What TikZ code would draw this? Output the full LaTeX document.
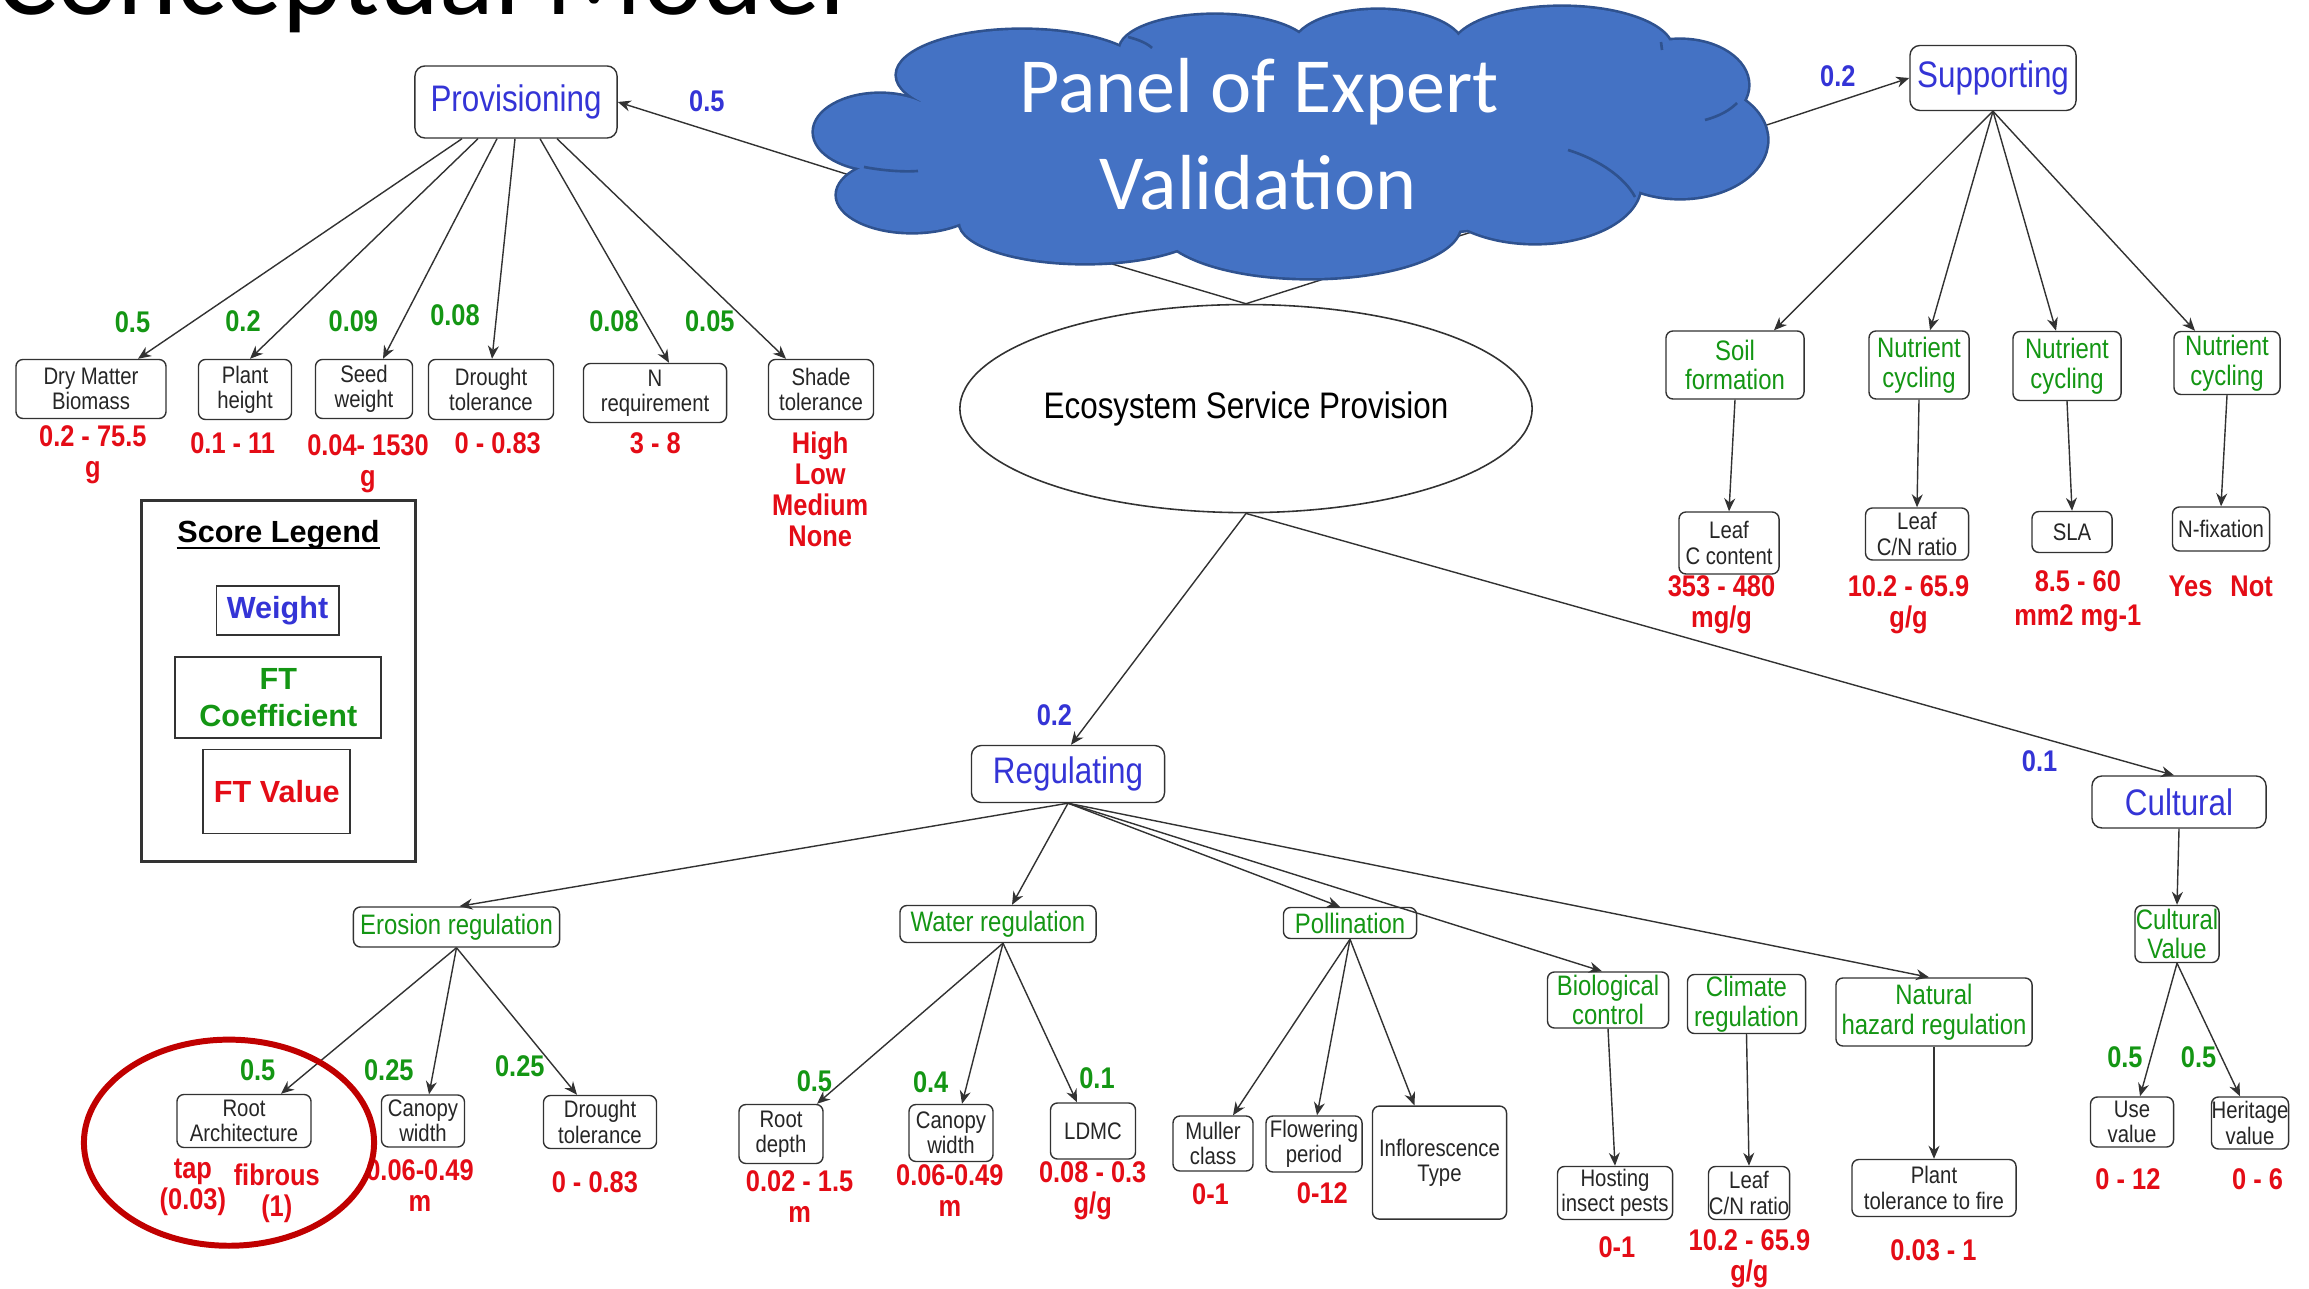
\documentclass[tikz,border=0pt]{standalone}
\usepackage{fontspec}
\newfontfamily\hv{Liberation Sans}[FakeStretch=0.85]
\newfontfamily\hvn{Liberation Sans}
\newfontfamily\carl{Carlito}
\usetikzlibrary{shapes.geometric,arrows.meta,calc}
\definecolor{wblue}{RGB}{52,52,214}
\definecolor{fgreen}{RGB}{20,150,20}
\definecolor{vred}{RGB}{228,12,22}
\definecolor{cloudfill}{RGB}{68,114,196}
\definecolor{cloudline}{RGB}{47,82,143}
\definecolor{circred}{RGB}{192,0,0}
\definecolor{linec}{RGB}{50,50,50}
\newcommand\FBig{\hv\fontsize{10.5}{12}\selectfont}
\newcommand\FGreen{\hv\fontsize{8}{8.4}\selectfont}
\newcommand\FSmall{\hv\fontsize{6.8}{7.2}\selectfont}
\newcommand\FNum{\hv\bfseries\fontsize{8.5}{8.8}\selectfont}
\newcommand\FLeg{\hvn\bfseries\fontsize{8.7}{10.5}\selectfont}
\begin{document}
\begin{tikzpicture}[x=0.01cm,y=-0.01cm,
 box/.style={draw=linec, line width=0.4pt, rounded corners=0.7mm, fill=white, align=center, inner sep=0pt, font=\FSmall, text=black!85},
 gbox/.style={box, font=\FGreen, text=fgreen},
 wbox/.style={box, font=\FBig, text=wblue, rounded corners=1mm},
 arr/.style={draw=linec, line width=0.4pt, -{Stealth[length=1.3mm,width=1.1mm]}},
 ln/.style={draw=linec, line width=0.4pt},
 gnum/.style={font=\FNum, text=fgreen, inner sep=0pt},
 bnum/.style={font=\FNum, text=wblue, inner sep=0pt},
 rval/.style={font=\FNum, text=vred, inner sep=0pt, align=center},
 legbox/.style={draw=black!80, line width=0.5pt, inner sep=0pt, align=center, font=\FLeg}]
\useasboundingbox (0,0) rectangle (2309,1289);

% ---------- top level ----------
\node[wbox, minimum width=20.2mm, minimum height=7.2mm] (prov) at (516,102) {Provisioning};
\node[wbox, minimum width=16.6mm, minimum height=6.5mm] (sup) at (1993,78) {Supporting};
\node[wbox, minimum width=19.3mm, minimum height=5.7mm] (reg) at (1068,774) {Regulating};
\node[wbox, minimum width=17.4mm, minimum height=5.2mm] (cul) at (2179,802) {Cultural};
\node[ellipse, draw=linec, line width=0.45pt, fill=white, minimum width=56.3mm, minimum height=20.8mm, inner sep=0pt, font=\FBig] (esp) at (1246,408.6) {Ecosystem Service Provision};

% ---------- provisioning children ----------
\node[box, minimum width=15.0mm, minimum height=5.9mm] (dmb) at (91,389) {Dry Matter\\Biomass};
\node[box, minimum width=9.3mm, minimum height=6.0mm] (ph) at (245,389.5) {Plant\\height};
\node[box, minimum width=9.7mm, minimum height=5.9mm] (sw) at (364,389) {Seed\\weight};
\node[box, minimum width=12.5mm, minimum height=6.0mm] (dt) at (491,389.5) {Drought\\tolerance};
\node[box, minimum width=14.3mm, minimum height=5.9mm] (nr) at (655,393) {N\\requirement};
\node[box, minimum width=10.5mm, minimum height=6.0mm] (st) at (821,389.5) {Shade\\tolerance};

\draw[arr] ($(prov.south)+(-54,0)$) -- ($(dmb.north)+(47,0)$);
\draw[arr] ($(prov.south)+(-38,0)$) -- ($(ph.north)+(5,0)$);
\draw[arr] ($(prov.south)+(-19,0)$) -- ($(sw.north)+(19,0)$);
\draw[arr] ($(prov.south)+(-1,0)$) -- ($(dt.north)+(1,0)$);
\draw[arr] ($(prov.south)+(24,0)$) -- ($(nr.north)+(14,0)$);
\draw[arr] ($(prov.south)+(41,0)$) -- ($(st.north)+(-35,0)$);

\node[gnum] (g1) at (132.5,322.5) {0.5};
\node[gnum] (g2) at (243,321) {0.2};
\node[gnum] (g3) at (353.4,321) {0.09};
\node[gnum] (g4) at (455,315) {0.08};
\node[gnum] (g5) at (614,321) {0.08};
\node[gnum] (g6) at (709.8,321) {0.05};

\node[rval] (r1) at (92.8,455) {0.2 - 75.5\\g};
\node[rval] (r2) at (232.7,443.3) {0.1 - 11};
\node[rval] (r3) at (368,464) {0.04- 1530\\g};
\node[rval] (r4) at (497.7,443.3) {0 - 0.83};
\node[rval] (r5) at (655.3,443.3) {3 - 8};
\node[rval] (r6) at (820.2,489.6) {High\\Low\\Medium\\None};

% ---------- supporting children ----------
\node[gbox, minimum width=13.8mm, minimum height=6.8mm] (soil) at (1735,365) {Soil\\formation};
\node[gbox, minimum width=10.0mm, minimum height=6.8mm] (nc1) at (1919,365) {Nutrient\\cycling};
\node[gbox, minimum width=10.8mm, minimum height=6.9mm] (nc2) at (2067,366) {Nutrient\\cycling};
\node[gbox, minimum width=10.6mm, minimum height=6.3mm] (nc3) at (2227,363) {Nutrient\\cycling};
\draw[arr] (sup.south) -- ($(soil.north)+(39,0)$);
\draw[arr] (sup.south) -- ($(nc1.north)+(11,0)$);
\draw[arr] (sup.south) -- ($(nc2.north)+(-11,0)$);
\draw[arr] (sup.south) -- ($(nc3.north)+(-32,0)$);

\node[box, minimum width=10.0mm, minimum height=6.2mm] (leafc) at (1729,543) {Leaf\\C content};
\node[box, minimum width=10.3mm, minimum height=5.2mm] (leafcn) at (1917,534) {Leaf\\C/N ratio};
\node[box, minimum width=8.0mm, minimum height=4.1mm] (sla) at (2072,532) {SLA};
\node[box, minimum width=9.7mm, minimum height=4.4mm] (nfix) at (2221,529) {N-fixation};
\draw[arr] (soil.south) -- (leafc.north);
\draw[arr] (nc1.south) -- (leafcn.north);
\draw[arr] (nc2.south) -- (sla.north);
\draw[arr] (nc3.south) -- (nfix.north);

\node[rval] (r7) at (1721.5,604.5) {353 - 480\\mg/g};
\node[rval] (r8) at (1908.5,604.5) {10.2 - 65.9\\g/g};
\node[rval, font=\hv\bfseries\fontsize{8.5}{9.6}\selectfont] (r9) at (2077.8,601.5) {8.5 - 60\\mm2 mg-1};
\node[rval] (r10) at (2220.7,586) {Yes\hspace{0.6em}Not};

% ---------- ecosystem -> regulating / cultural ----------
\draw[arr] (esp.south) -- ($(reg.north)+(3,0)$);
\draw[arr] (esp.south) -- ($(cul.north)+(-5,0)$);
\node[bnum] (w3) at (1054.4,715.7) {0.2};
\node[bnum] (w4) at (2039.6,761.3) {0.1};

% ---------- regulating children ----------
\node[gbox, minimum width=20.6mm, minimum height=4.0mm] (ero) at (456.5,927) {Erosion regulation};
\node[gbox, minimum width=19.6mm, minimum height=3.7mm] (wat) at (998,924) {Water regulation};
\node[gbox, minimum width=13.3mm, minimum height=3.1mm] (pol) at (1350,923) {Pollination};
\node[gbox, minimum width=12.1mm, minimum height=5.6mm] (bio) at (1608,1000) {Biological\\control};
\node[gbox, minimum width=11.8mm, minimum height=5.9mm] (cli) at (1746.5,1004) {Climate\\regulation};
\node[gbox, minimum width=19.6mm, minimum height=6.8mm] (nh) at (1934,1012) {Natural\\hazard regulation};
\draw[arr] (reg.south) -- ($(ero.north)+(3,0)$);
\draw[arr] (reg.south) -- ($(wat.north)+(14,0)$);
\draw[arr] (reg.south) -- ($(pol.north)+(-10,0)$);
\draw[arr] (reg.south) -- ($(bio.north)+(-6,0)$);
\draw[arr] (reg.south) -- ($(nh.north)+(-5,0)$);

% erosion
\node[box, minimum width=13.4mm, minimum height=5.3mm] (ra) at (244,1121) {Root\\Architecture};
\node[box, minimum width=8.3mm, minimum height=5.2mm] (cw1) at (423,1121) {Canopy\\width};
\node[box, minimum width=11.3mm, minimum height=5.3mm] (dt2) at (600,1122) {Drought\\tolerance};
\draw[arr] (ero.south) -- ($(ra.north)+(37,0)$);
\draw[arr] (ero.south) -- ($(cw1.north)+(6,0)$);
\draw[arr] (ero.south) -- ($(dt2.north)+(-23,0)$);
\node[gnum] (g7) at (257.7,1070.6) {0.5};
\node[gnum] (g8) at (388.8,1070.6) {0.25};
\node[gnum] (g9) at (519.8,1066.2) {0.25};
\node[rval] (r11) at (192.9,1187.6) {tap\\(0.03)};
\node[rval] (r12) at (276.8,1192.8) {fibrous\\(1)};
\node[rval] (r13) at (420,1186) {0.06-0.49\\m};
\node[rval] (r14) at (594.9,1182.5) {0 - 0.83};

% water
\node[box, minimum width=8.4mm, minimum height=5.9mm] (rd) at (781,1134) {Root\\depth};
\node[box, minimum width=8.4mm, minimum height=5.7mm] (cw2) at (951,1133) {Canopy\\width};
\node[box, minimum width=8.5mm, minimum height=5.6mm] (ldmc) at (1093,1131) {LDMC};
\draw[arr] ($(wat.south)+(5,0)$) -- ($(rd.north)+(36,0)$);
\draw[arr] ($(wat.south)+(5,0)$) -- ($(cw2.north)+(11,0)$);
\draw[arr] ($(wat.south)+(5,0)$) -- ($(ldmc.north)+(-16,0)$);
\node[gnum] (g10) at (814.4,1080.9) {0.5};
\node[gnum] (g11) at (930.7,1082.4) {0.4};
\node[gnum] (g12) at (1097,1078) {0.1};
\node[rval] (r15) at (799.6,1196.5) {0.02 - 1.5\\m};
\node[rval] (r16) at (949.8,1190.5) {0.06-0.49\\m};
\node[rval] (r17) at (1092.7,1190.5) {0.08 - 0.3\\g/g};

% pollination
\node[box, minimum width=8.0mm, minimum height=5.5mm] (mc) at (1213,1143.5) {Muller\\class};
\node[box, minimum width=9.6mm, minimum height=5.6mm] (fp) at (1314,1144) {Flowering\\period};
\node[box, minimum width=13.4mm, minimum height=11.3mm] (it) at (1439.5,1162.6) {Inflorescence\\Type};
\draw[arr] (pol.south) -- ($(mc.north)+(20,0)$);
\draw[arr] (pol.south) -- ($(fp.north)+(3,0)$);
\draw[arr] (pol.south) -- ($(it.north)+(-25,0)$);
\node[rval] (r18) at (1210.5,1194.3) {0-1};
\node[rval] (r19) at (1322.4,1192.8) {0-12};

% bio / climate / hazard
\node[box, minimum width=11.5mm, minimum height=5.3mm] (host) at (1615,1193) {Hosting\\insect pests};
\node[box, minimum width=8.1mm, minimum height=5.3mm] (leafcn2) at (1749,1193) {Leaf\\C/N ratio};
\node[box, minimum width=16.4mm, minimum height=5.7mm] (ptf) at (1934,1188) {Plant\\tolerance to fire};
\draw[arr] (bio.south) -- (host.north);
\draw[arr] (cli.south) -- (leafcn2.north);
\draw[arr] (nh.south) -- (ptf.north);
\node[rval] (r20) at (1616.9,1247.3) {0-1};
\node[rval] (r21) at (1749.4,1259) {10.2 - 65.9\\g/g};
\node[rval] (r22) at (1933.5,1250.2) {0.03 - 1};

% cultural
\node[gbox, minimum width=8.4mm, minimum height=5.7mm] (cv) at (2177,934) {Cultural\\Value};
\node[box, minimum width=8.3mm, minimum height=5.0mm] (use) at (2132,1122) {Use\\value};
\node[box, minimum width=7.7mm, minimum height=5.2mm] (her) at (2250,1123) {Heritage\\value};
\draw[arr] (cul.south) -- (cv.north);
\draw[arr] (cv.south) -- ($(use.north)+(8,0)$);
\draw[arr] (cv.south) -- ($(her.north)+(-10,0)$);
\node[gnum] (g13) at (2124.9,1057.3) {0.5};
\node[gnum] (g14) at (2198.6,1057.3) {0.5};
\node[rval] (r23) at (2127.9,1179.6) {0 - 12};
\node[rval] (r24) at (2257.5,1179.6) {0 - 6};

% red circle
\node[ellipse, draw=circred, line width=1.7pt, minimum width=29mm, minimum height=20.6mm, inner sep=0pt] (circ) at (229,1142.7) {};

% ---------- legend ----------
\node[legbox, line width=0.7pt, minimum width=27.4mm, minimum height=36.1mm] (leg) at (278.4,681.1) {};
\node[font=\FLeg, inner sep=0pt, anchor=base] (legt) at (278.5,543) {Score Legend};
\draw[line width=0.75pt] ($(legt.base west)+(0,5)$) -- ($(legt.base east)+(0,5)$);
\node[legbox, text=wblue, minimum width=12.2mm, minimum height=4.9mm] (lw) at (277.6,610.4) {Weight};
\node[legbox, text=fgreen, minimum width=20.6mm, minimum height=8.1mm] (lc) at (278.3,697.3) {FT\\Coefficient};
\node[legbox, text=vred, minimum width=14.7mm, minimum height=8.4mm] (lv) at (276.8,791.5) {FT Value};

% ---------- cloud connectors (start hidden under the cloud) ----------
\coordinate (cl1) at (900,201);
\coordinate (cl2) at (1500,223);
\coordinate (cp) at (900,191);
\coordinate (cs) at (1700,147);
\draw[ln] (cl1) -- (esp.north);
\draw[ln] (cl2) -- (esp.north);
\draw[arr] (cp) -- (prov.east);
\draw[arr] (cs) -- (sup.west);
\node[bnum] (w1) at (706.8,101.6) {0.5};
\node[bnum] (w2) at (1837.8,76.6) {0.2};

% ---------- cloud: union of puffs ----------
\def\puffs{(880,132)/66/38, (912,195)/75/37, (1085,222)/125/41, (1310,225)/150/53,
  (1535,185)/105/58, (1680,140)/87/58, (1680,85)/68/45, (1562,50)/110/43,
  (1378,48)/85/38, (1215,50)/95/35, (1022,75)/125/45, (1290,140)/400/100}
\foreach \c/\rx/\ry in \puffs { \draw[cloudline, line width=1.5pt] \c ellipse[x radius=\rx, y radius=\ry]; }
\foreach \c/\rx/\ry in \puffs { \fill[cloudfill] \c ellipse[x radius=\rx, y radius=\ry]; }
% small inner strokes of the puffs
\draw[cloudline, line width=0.75pt] (864,167) .. controls (885,171) and (905,172) .. (918,171);
\draw[cloudline, line width=0.75pt] (1128,37) .. controls (1140,40) and (1148,44) .. (1152,48);
\draw[cloudline, line width=0.75pt] (1568,150) .. controls (1600,160) and (1625,178) .. (1635,197);
\draw[cloudline, line width=0.75pt] (1737,103) .. controls (1730,110) and (1720,116) .. (1705,120);
\draw[cloudline, line width=0.75pt] (1661,42) -- (1662,50);
\coordinate (cloud) at (1291,142.5);
\node[anchor=base, inner sep=0pt, text=white, font=\carl\fontsize{22.2}{26}\selectfont] (ct1) at (1259,113) {Panel of Expert};
\node[anchor=base, inner sep=0pt, text=white, font=\carl\fontsize{22.2}{26}\selectfont] (ct2) at (1258,210) {Validation};

% ---------- title (cut off at the top) ----------
\node[anchor=base east, inner sep=0pt, font=\carl\fontsize{32.4}{36}\selectfont] (title) at (847,15) {Conceptual Model};
\end{tikzpicture}
\end{document}
